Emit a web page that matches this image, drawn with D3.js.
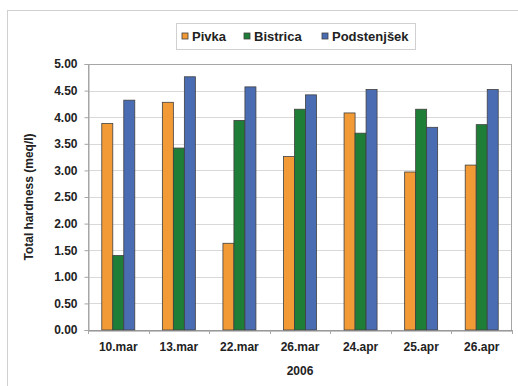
<!DOCTYPE html>
<html><head><meta charset="utf-8">
<script src="https://cdn.jsdelivr.net/npm/d3@7"></script>
<style>body{margin:0;background:#fff;}svg{display:block;font-family:Arial,"Liberation Sans",sans-serif;}</style>
</head><body>
<script>
const categories = ["10.mar","13.mar","22.mar","26.mar","24.apr","25.apr","26.apr"];
const seriesNames = ["Pivka","Bistrica","Podstenjšek"];
const pivka = [3.88,4.28,1.63,3.26,4.08,2.97,3.10];
const bistrica = [1.40,3.42,3.94,4.15,3.70,4.15,3.86];
const podstenjsek = [4.32,4.76,4.57,4.42,4.52,3.81,4.52];
const yTicks = [0,0.5,1,1.5,2,2.5,3,3.5,4,4.5,5];
const colors = ["#F29B36","#1E7E37","#4A6CB3"];
const allSeries = [pivka,bistrica,podstenjsek];

const W=518,H=386;
const svg=d3.select("body").append("svg").attr("width",W).attr("height",H);
svg.append("rect").attr("x",7.5).attr("y",10.5).attr("width",520).attr("height",390)
  .attr("fill","#fff").attr("stroke","#d0d0d0");

const L=88,R=512,T=64,B=330;
const x=d3.scaleBand().domain(categories).range([L,R]);
const y=d3.scaleLinear().domain([0,5]).range([B,T]);
const barW=11;
const xs=d3.scaleBand().domain(seriesNames).range([0,barW*3]);

// gridlines
svg.append("g").selectAll("line").data(yTicks.slice(1)).join("line")
  .attr("x1",L).attr("x2",R).attr("y1",d=>Math.round(y(d))+0.5).attr("y2",d=>Math.round(y(d))+0.5)
  .attr("stroke","#d9d9d9");
// plot border
svg.append("rect").attr("x",L+0.5).attr("y",T+0.5).attr("width",R-L-1).attr("height",B-T)
  .attr("fill","none").attr("stroke","#a6a6a6");

// bars
seriesNames.forEach((s,i)=>{
  svg.append("g").selectAll("rect").data(allSeries[i]).join("rect")
    .attr("x",(d,j)=>x(categories[j])+x.bandwidth()/2-barW*1.5+xs(s))
    .attr("y",d=>y(d)).attr("width",barW).attr("height",d=>B-y(d))
    .attr("fill",colors[i]).attr("stroke","#404040").attr("stroke-width",0.8);
});

// y axis
const ya=svg.append("g").attr("transform",`translate(${L+0.5},0)`)
  .call(d3.axisLeft(y).tickValues(yTicks).tickFormat(d3.format(".2f")).tickSize(4).tickPadding(7));
ya.select(".domain").attr("stroke","#a6a6a6");
ya.selectAll(".tick line").attr("stroke","#a6a6a6");
ya.selectAll("text").attr("font-size",12).attr("font-weight","bold").attr("fill","#222").attr("font-family","Arial, Liberation Sans, sans-serif");

// x axis
const xa=svg.append("g").attr("transform",`translate(0,${B+0.5})`)
  .call(d3.axisBottom(x).tickSize(0).tickPadding(12));
xa.select(".domain").attr("stroke","#8c8c8c");
xa.selectAll("text").attr("font-size",12).attr("font-weight","bold").attr("fill","#222").attr("font-family","Arial, Liberation Sans, sans-serif");
svg.append("g").selectAll("line").data(d3.range(categories.length+1)).join("line")
  .attr("x1",i=>Math.round(L+i*x.step())+0.5).attr("x2",i=>Math.round(L+i*x.step())+0.5)
  .attr("y1",B).attr("y2",B+4).attr("stroke","#a6a6a6");

svg.append("text").attr("x",(L+R)/2).attr("y",375).attr("text-anchor","middle")
  .attr("font-size",12).attr("font-weight","bold").attr("fill","#222").text("2006");
svg.append("text").attr("transform",`translate(33,${(T+B)/2}) rotate(-90)`).attr("text-anchor","middle")
  .attr("font-size",12).attr("font-weight","bold").attr("fill","#222").text("Total hardness (meq/l)");

// legend
const lg=svg.append("g");
lg.append("rect").attr("x",176.5).attr("y",23.5).attr("width",239).attr("height",26)
  .attr("fill","#fff").attr("stroke","#d0d0d0");
const lx=[182,244,322];
seriesNames.forEach((s,i)=>{
  lg.append("rect").attr("x",lx[i]).attr("y",33).attr("width",6).attr("height",6)
    .attr("fill",colors[i]).attr("stroke","#404040").attr("stroke-width",0.8);
  lg.append("text").attr("x",lx[i]+10).attr("y",40.5).attr("font-size",13).attr("font-weight","bold")
    .attr("fill","#222").text(s);
});
</script>
</body></html>
